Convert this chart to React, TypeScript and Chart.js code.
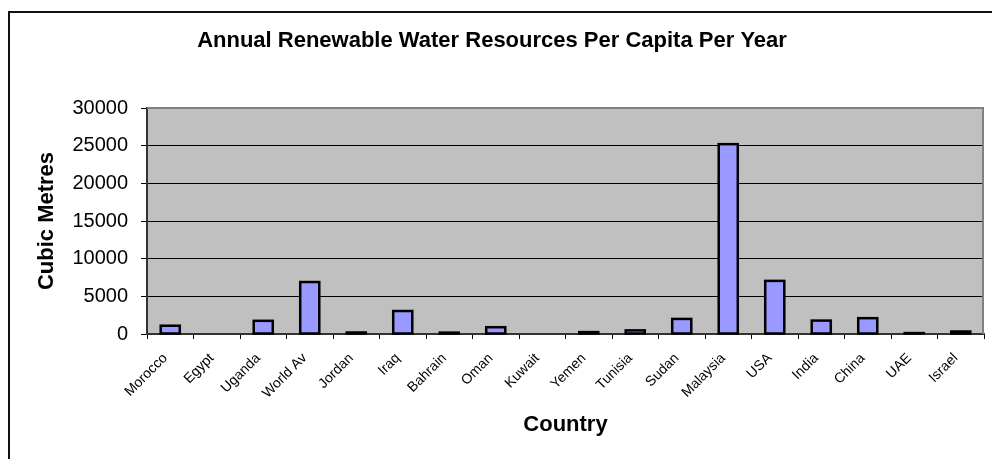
import React, { useEffect, useRef } from 'react';
import { Chart, registerables } from 'chart.js';

Chart.register(...registerables);

// values (cubic metres per person per year)
const countries = [
  'Morocco', 'Egypt', 'Uganda', 'World Av', 'Jordan', 'Iraq',
  'Bahrain', 'Oman', 'Kuwait', 'Yemen', 'Tunisia', 'Sudan',
  'Malaysia', 'USA', 'India', 'China', 'UAE', 'Israel',
];
const waterPerCapita = [
  1100, 0, 1750, 6900, 200, 3050,
  180, 900, 0, 250, 480, 2000,
  25200, 7050, 1780, 2100, 120, 330,
];
const yMin = 0;
const yMax = 30000;
const yStep = 5000;

const FONT = "'Liberation Sans', Arial, sans-serif";

// grey plot background + grey frame on top and right, like the old Excel chart
const plotFrame = {
  id: 'plotFrame',
  beforeDraw(chart: Chart) {
    const { ctx, chartArea } = chart;
    const { left, top, width, height } = chartArea;
    ctx.save();
    ctx.fillStyle = '#c0c0c0';
    ctx.fillRect(left, top, width, height);
    ctx.restore();
  },
  afterDraw(chart: Chart) {
    const { ctx, chartArea } = chart;
    const { left, top, right, bottom } = chartArea;
    ctx.save();
    ctx.strokeStyle = '#808080';
    ctx.lineWidth = 2;
    ctx.beginPath();
    ctx.moveTo(left, top);
    ctx.lineTo(right - 1, top);
    ctx.lineTo(right - 1, bottom);
    ctx.stroke();
    ctx.restore();
  },
};

// Excel draws the bar outline centred on the bar edge, so tiny values still
// show up as a dark line; Chart.js puts its border inside, so stroke it here
const barOutline = {
  id: 'barOutline',
  afterDatasetsDraw(chart: Chart) {
    const { ctx } = chart;
    const meta = chart.getDatasetMeta(0);
    ctx.save();
    ctx.strokeStyle = '#000';
    ctx.lineWidth = 2.5;
    meta.data.forEach((bar: any, i: number) => {
      if (!waterPerCapita[i]) return;
      const { x, y, base, width } = bar.getProps(['x', 'y', 'base', 'width'], true);
      ctx.strokeRect(x - width / 2, y, width, base - y);
    });
    ctx.restore();
  },
};

const WaterChart: React.FC = () => {
  const canvasRef = useRef<HTMLCanvasElement>(null);

  useEffect(() => {
    if (!canvasRef.current) return;
    const existing = Chart.getChart(canvasRef.current);
    if (existing) existing.destroy();

    const chart = new Chart(canvasRef.current, {
      type: 'bar',
      data: {
        labels: countries,
        datasets: [
          {
            label: 'Cubic Metres',
            data: waterPerCapita,
            backgroundColor: '#9999ff',
            borderWidth: 0,
            barPercentage: 0.41,
            categoryPercentage: 1,
          },
        ],
      },
      options: {
        responsive: false,
        animation: false,
        layout: { padding: { right: 8 } },
        plugins: {
          legend: { display: false },
          tooltip: { enabled: false },
          title: {
            display: true,
            text: 'Annual Renewable Water Resources Per Capita Per Year',
            color: '#000',
            font: { family: FONT, size: 22, weight: 'bold' },
            padding: { top: 27.8, bottom: 53.8 },
          },
        },
        scales: {
          x: {
            grid: {
              display: true,
              drawOnChartArea: false,
              drawTicks: true,
              tickLength: 5,
              color: '#000',
              offset: true,
            },
            border: { color: '#333', width: 2 },
            ticks: {
              color: '#000',
              font: { family: FONT, size: 14 },
              maxRotation: 45,
              minRotation: 45,
              autoSkip: false,
              padding: 11,
              labelOffset: -5,
            },
            title: {
              display: true,
              text: 'Country',
              color: '#000',
              font: { family: FONT, size: 22, weight: 'bold' },
              padding: { top: 0, bottom: 20.8 },
            },
            afterFit(scale: any) {
              scale.height = 125;
            },
          },
          y: {
            min: yMin,
            max: yMax,
            ticks: {
              stepSize: yStep,
              color: '#000',
              font: { family: FONT, size: 20 },
              padding: 13,
              callback: (value: any) => String(value),
            },
            grid: {
              color: (ctx: any) => (ctx.tick && ctx.tick.value === yMax ? 'rgba(0,0,0,0)' : '#000'),
              lineWidth: 1,
              tickLength: 6,
              tickColor: '#000',
            },
            border: { color: '#333', width: 2 },
            title: {
              display: true,
              text: 'Cubic Metres',
              color: '#000',
              font: { family: FONT, size: 22, weight: 'bold' },
              padding: { top: 33.8, bottom: 0 },
            },
            afterFit(scale: any) {
              scale.width = 147;
            },
          },
        },
      },
      plugins: [plotFrame, barOutline],
    });

    return () => {
      chart.destroy();
    };
  }, []);

  return (
    <div
      style={{
        position: 'fixed',
        left: 0,
        top: 0,
        width: 992,
        height: 459,
        overflow: 'hidden',
        background: '#fff',
      }}
    >
      <div
        style={{
          position: 'absolute',
          left: 8,
          top: 11,
          width: 2000,
          height: 2000,
          border: '2px solid #111',
        }}
      />
      <canvas
        ref={canvasRef}
        width={992}
        height={459}
        style={{ position: 'absolute', left: 0, top: 0 }}
      />
    </div>
  );
};

export default function App() {
  return <WaterChart />;
}
